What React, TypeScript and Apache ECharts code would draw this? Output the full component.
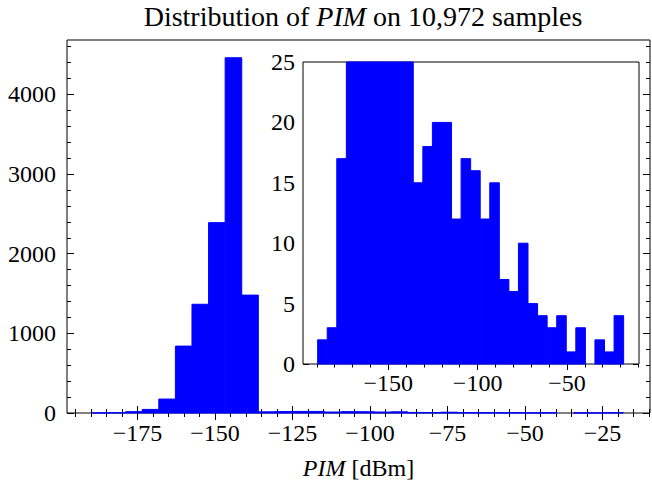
import React, { useEffect, useRef } from "react";
import * as echarts from "echarts";

// ---- data ----
const binStart = -189.5;
const binWidth = 5.35;
const counts = [2, 3, 17, 45, 175, 840, 1365, 2390, 4460, 1480, 15, 18, 20, 20, 12, 17, 16, 12, 15, 7, 6, 10, 5, 4, 3, 4, 1, 3, 0, 2, 1, 4];

const xMin = -197.7;
const xMax = -9.7;
const mainYMax = 4683;
const insetYMax = 25;

const mainXMajor = [-175, -150, -125, -100, -75, -50, -25];
const mainYMajor = [0, 1000, 2000, 3000, 4000];
const insetXMajor = [-150, -100, -50];
const insetYMajor = [0, 5, 10, 15, 20, 25];

const range = (a: number, b: number, s: number) => {
  const out: number[] = [];
  for (let v = a; v <= b + 1e-9; v += s) out.push(Math.round(v * 1000) / 1000);
  return out;
};
const mainXMinor = range(-195, -10, 5);
const mainYMinor = range(0, 4600, 200);
const insetXMinor = range(-190, -10, 10);
const insetYMinor = range(0, 25, 1);

const titleText = "Distribution of {i|PIM} on 10,972 samples";
const xName = "{i|PIM} [dBm]";

const FONT = "'Liberation Serif', 'Times New Roman', serif";
const FS = 24;
const TFS = 28;
const BLUE = "#0000ff";

const fmt = (v: number) => String(v).replace("-", "\u2212");

function makeAxes(
  kind: "x" | "y",
  gridIndex: number,
  min: number,
  max: number,
  major: number[],
  minor: number[],
  majorLen: number,
  minorLen: number,
  labelMargin: number
) {
  const posA = kind === "x" ? "bottom" : "left";
  const posB = kind === "x" ? "top" : "right";
  const base = (position: string, ticks: number[], len: number, labels: boolean) => ({
    type: "value",
    gridIndex,
    position,
    min,
    max,
    axisLine: { show: false },
    splitLine: { show: false },
    axisTick: {
      show: true,
      inside: true,
      length: len,
      customValues: ticks,
      lineStyle: { color: "#000", width: 1 },
    },
    axisLabel: labels
      ? {
          show: true,
          customValues: major,
          formatter: (v: number) => fmt(v),
          margin: labelMargin,
          color: "#000",
          fontFamily: FONT,
          fontSize: FS,
        }
      : { show: false },
  });
  return [
    base(posA, major, majorLen, true),
    base(posA, minor, minorLen, false),
    base(posB, major, majorLen, false),
    base(posB, minor, minorLen, false),
  ];
}

export default function App() {
  const ref = useRef<HTMLDivElement>(null);
  useEffect(() => {
    if (!ref.current) return;
    const chart = echarts.init(ref.current, undefined, { renderer: "svg" });
    const data = counts.map((c, i) => [binStart + i * binWidth, binStart + (i + 1) * binWidth, c]);

    const renderItem = (params: any, api: any) => {
      const x0 = api.value(0);
      const x1 = api.value(1);
      const c = api.value(2);
      if (!c) return null;
      const p0 = api.coord([x0, c]);
      const p1 = api.coord([x1, 0]);
      const cs = params.coordSys;
      const rect = echarts.graphic.clipRectByRect(
        { x: p0[0], y: p0[1], width: p1[0] - p0[0], height: p1[1] - p0[1] },
        { x: cs.x, y: cs.y, width: cs.width, height: cs.height }
      );
      if (!rect) return null;
      return {
        type: "rect",
        shape: rect,
        style: { fill: BLUE, stroke: BLUE, lineWidth: 1 },
      };
    };

    const xAxes: any[] = [
      ...makeAxes("x", 0, xMin, xMax, mainXMajor, mainXMinor, 7, 4, 8),
      ...makeAxes("x", 1, xMin, xMax, insetXMajor, insetXMinor, 6, 3.5, 7),
    ];
    xAxes[0].name = xName;
    xAxes[0].nameLocation = "middle";
    xAxes[0].nameGap = 43;
    xAxes[0].nameTextStyle = {
      fontFamily: FONT,
      fontSize: FS,
      color: "#000",
      rich: { i: { fontStyle: "italic", fontFamily: FONT, fontSize: FS, color: "#000" } },
    };
    const yAxes: any[] = [
      ...makeAxes("y", 0, 0, mainYMax, mainYMajor, mainYMinor, 7, 4, 11),
      ...makeAxes("y", 1, 0, insetYMax, insetYMajor, insetYMinor, 6, 3.5, 8),
    ];

    chart.setOption({
      animation: false,
      backgroundColor: "#fff",
      title: {
        text: titleText,
        left: 358,
        textAlign: "center",
        top: -3,
        textStyle: {
          fontFamily: FONT,
          fontSize: TFS,
          fontWeight: "normal",
          color: "#000",
          rich: { i: { fontStyle: "italic", fontFamily: FONT, fontSize: TFS, color: "#000" } },
        },
      },
      grid: [
        { left: 67, top: 40, width: 583, height: 373, show: true, borderColor: "#000", borderWidth: 1, backgroundColor: "transparent" },
        { left: 303, top: 62, width: 336, height: 302, show: true, borderColor: "#000", borderWidth: 1, backgroundColor: "#fff", z: 3 },
      ],
      xAxis: xAxes,
      yAxis: yAxes,
      series: [
        {
          type: "custom",
          xAxisIndex: 0,
          yAxisIndex: 0,
          renderItem,
          encode: { x: [0, 1], y: 2 },
          data,
        },
        {
          type: "custom",
          xAxisIndex: 4,
          yAxisIndex: 4,
          renderItem,
          encode: { x: [0, 1], y: 2 },
          data,
          z: 4,
        },
      ],
    });
    return () => chart.dispose();
  }, []);
  return (
    <div
      ref={ref}
      style={{ position: "fixed", left: 0, top: 0, width: 652, height: 487 }}
    />
  );
}
